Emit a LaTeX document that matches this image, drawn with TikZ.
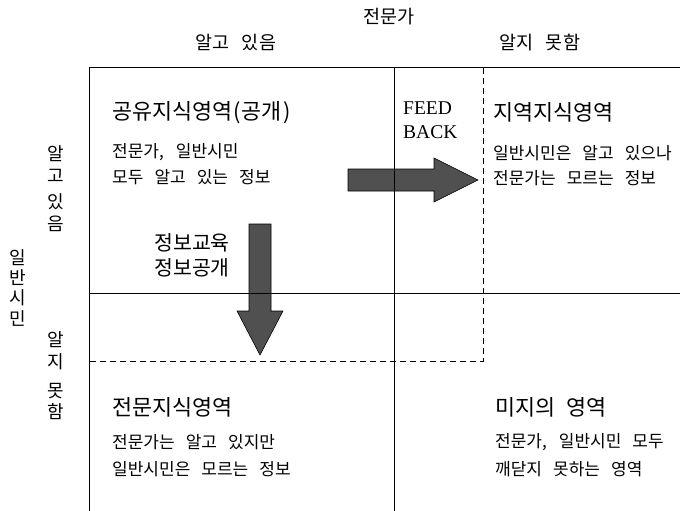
\documentclass[tikz,border=0pt]{standalone}
\usepackage{fontspec}
\setmainfont{Liberation Serif}
\newfontfamily\kr{Noto Sans CJK KR}
\definecolor{arrowgray}{RGB}{80,80,80}
\newcommand{\widespace}{\spaceskip=0.65em\relax}
\begin{document}
\begin{tikzpicture}[x=1pt,y=-1pt,
  grid/.style={line width=1pt, black},
  dashline/.style={line width=1pt, black, dash pattern=on 6pt off 4pt},
  bigarrow/.style={fill=arrowgray, draw=black, line width=0.6pt, line join=miter},
  head/.style={inner sep=0pt, font={\kr\fontsize{18.5}{20}\selectfont}, execute at begin node={\widespace}},
  vlabel/.style={inner sep=0pt, align=center, font={\kr\fontsize{18}{22}\selectfont}},
  title/.style={inner sep=0pt, anchor=west, font={\kr\fontsize{21.8}{24}\selectfont}, execute at begin node={\spaceskip=0.5em\relax}},
  body/.style={inner sep=0pt, anchor=west, font={\kr\fontsize{17}{20}\selectfont}, execute at begin node={\widespace}},
  midlabel/.style={inner sep=0pt, font={\kr\fontsize{20.5}{25}\selectfont}},
  latin/.style={inner sep=0pt, anchor=west, font={\fontsize{19.5}{24}\selectfont}},
]
\useasboundingbox (0,0) rectangle (680,511);

% arrows (drawn under the grid lines)
\draw[bigarrow] (348,169) -- (434,169) -- (434,158) -- (478,180) -- (434,202) -- (434,191) -- (348,191) -- cycle;
\draw[bigarrow] (249,224) -- (271,224) -- (271,311) -- (283,311) -- (260,355) -- (237,311) -- (249,311) -- cycle;

% grid
\coordinate (TL) at (89,68);
\coordinate (TR) at (680,68);
\coordinate (BL) at (89,511);
\coordinate (MT) at (394,68);
\coordinate (MB) at (394,511);
\coordinate (ML) at (89,293);
\coordinate (MR) at (680,293);
\coordinate (DT) at (483,68);
\coordinate (DC) at (483,361);
\coordinate (DL) at (89,361);
\draw[grid] (TR) -- (TL) -- (BL);
\draw[grid] (MT) -- (MB);
\draw[grid] (ML) -- (MR);
\draw[dashline] (DT) -- (DC) -- (DL);

% headers
\node[head] (hexp) at (389,17) {전문가};
\node[head] (hknow) at (236,43) {알고 있음};
\node[head] (hnot) at (540,43) {알지 못함};
\node[vlabel] (hcit) at (18,288) {일\\[-2pt]반\\[-2pt]시\\[-1pt]민};
\node[vlabel] (vknow) at (56,189) {알\\고\\[4pt]있\\음};
\node[vlabel] (vnot) at (56,376) {알\\지\\[7pt]못\\[-1pt]함};

% quadrant 1
\node[title] (q1t) at (112,113) {공유지식영역\kern1pt(\kern1pt공개\kern1pt)};
\node[body] (q1a) at (112,152) {전문가,\kern1pt{} 일반시민};
\node[body] (q1b) at (112,177) {모두 알고 있는 정보};
\node[midlabel] (edu1) at (192,243) {정보교육};
\node[midlabel] (edu2) at (192,268) {정보공개};

% feedback
\node[latin] (fb1) at (403,108) {FEED};
\node[latin] (fb2) at (403,132) {BACK};

% quadrant 2
\node[title] (q2t) at (493,112) {지역지식영역};
\node[body] (q2a) at (493,153) {일반시민은 알고 있으나};
\node[body] (q2b) at (493,178) {전문가는 모르는 정보};

% quadrant 3
\node[title] (q3t) at (112,407) {전문지식영역};
\node[body] (q3a) at (112,442) {전문가는 알고 있지만};
\node[body] (q3b) at (112,469) {일반시민은 모르는 정보};

% quadrant 4
\node[title] (q4t) at (495,407) {미지의 영역};
\node[body] (q4a) at (495,442) {전문가,\kern1pt{} 일반시민 모두};
\node[body] (q4b) at (495,469) {깨닫지 못하는 영역};
\end{tikzpicture}
\end{document}
